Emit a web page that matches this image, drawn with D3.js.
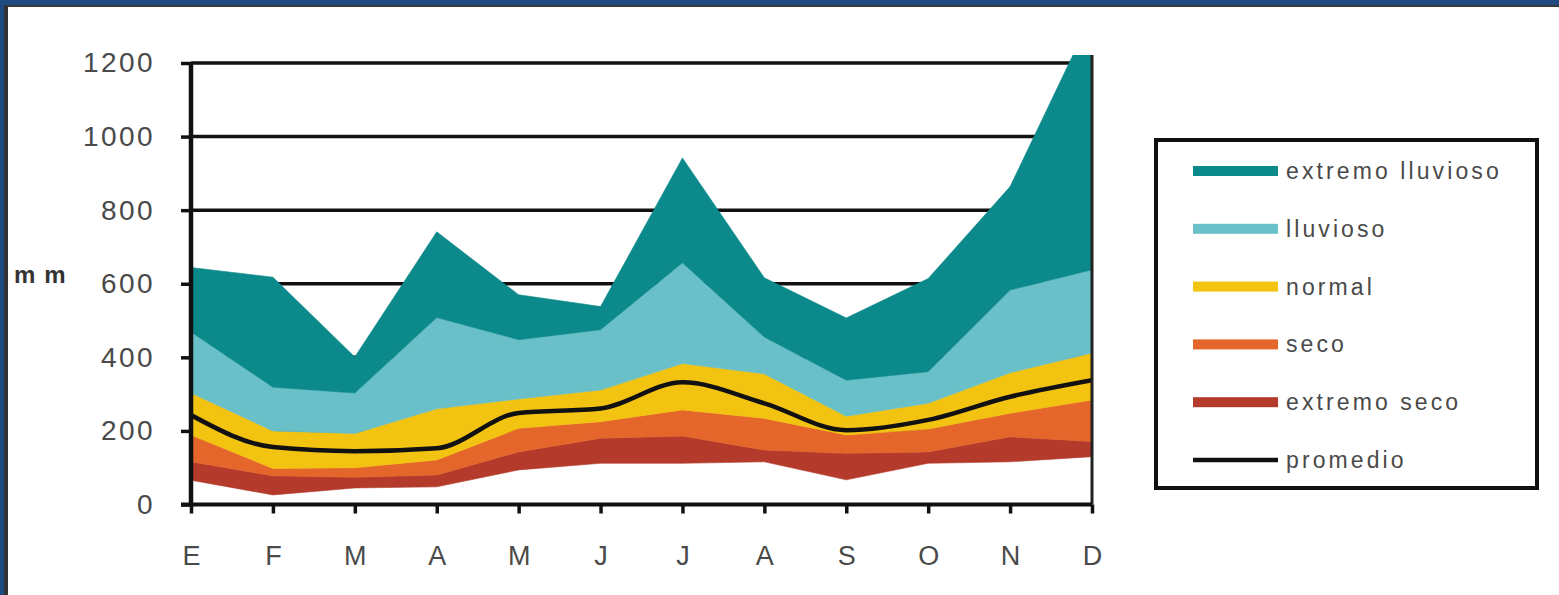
<!DOCTYPE html>
<html>
<head>
<meta charset="utf-8">
<script src="https://cdn.jsdelivr.net/npm/d3@7"></script>
<style>
  html, body { margin: 0; padding: 0; background: #ffffff; }
  svg { display: block; }
  text { font-family: "Liberation Sans", Arial, sans-serif; }
</style>
</head>
<body>
<svg id="chart" width="1559" height="595"></svg>
<script>
// Meses (eje X)
const meses = ["E", "F", "M", "A", "M", "J", "J", "A", "S", "O", "N", "D"];

// Límites de cada categoría de precipitación mensual (mm)
const minimo            = [66, 26, 45, 48, 94, 112, 112, 116, 67, 112, 116, 130];
const limExtremoSeco    = [116, 78, 74, 80, 143, 180, 186, 148, 139, 143, 184, 171];
const limSeco           = [189, 98, 100, 121, 207, 225, 257, 234, 189, 205, 248, 284];
const limNormal         = [303, 200, 193, 260, 287, 311, 383, 355, 240, 275, 358, 412];
const limLluvioso       = [469, 319, 303, 508, 448, 475, 657, 455, 338, 361, 583, 638];
const limExtremoLluvio  = [644, 618, 401, 741, 570, 538, 942, 616, 507, 614, 864, 1330];

// Precipitación promedio (mm)
const promedio = [243, 156, 145, 153, 249, 261, 332, 275, 202, 230, 293, 338];

// Marcas del eje Y
const ticksY = [0, 200, 400, 600, 800, 1000, 1200];

// Series de la leyenda
const nombres = ["extremo lluvioso", "lluvioso", "normal", "seco", "extremo seco", "promedio"];
const colores = ["#0c8a8b", "#69c0c8", "#f3c311", "#e4662b", "#b43a2b", "#111111"];

const svg = d3.select("#chart");
const W = 1559, H = 595;

// Marco azul con filete oscuro
svg.append("rect").attr("x", 0).attr("y", 0).attr("width", W).attr("height", 5).attr("fill", "#1f4b82");
svg.append("rect").attr("x", 0).attr("y", 0).attr("width", 4).attr("height", H).attr("fill", "#1f4b82");
svg.append("rect").attr("x", 4).attr("y", 5).attr("width", W - 4).attr("height", 2).attr("fill", "#3a3a3a");
svg.append("rect").attr("x", 4).attr("y", 5).attr("width", 4).attr("height", H - 5).attr("fill", "#333333");

// Escalas
const x = d3.scalePoint().domain(d3.range(meses.length)).range([191, 1092]);
const y = d3.scaleLinear().domain([0, 1200]).range([504.5, 63]);

// Recorte del área de trazado
svg.append("clipPath").attr("id", "plotClip")
  .append("rect")
  .attr("x", x(0)).attr("y", y(1222))
  .attr("width", x(11) - x(0)).attr("height", y(0) - y(1222));

// Líneas de división horizontales
const grid = svg.append("g");
grid.selectAll("line").data(ticksY.filter(d => d > 0)).join("line")
  .attr("x1", x(0)).attr("x2", x(11))
  .attr("y1", d => y(d)).attr("y2", d => y(d))
  .attr("stroke", "#111").attr("stroke-width", 3.5);

// Bandas entre límites consecutivos
const limites = [minimo, limExtremoSeco, limSeco, limNormal, limLluvioso, limExtremoLluvio];
const bandas = [
  { lo: 0, hi: 1, color: colores[4] },
  { lo: 1, hi: 2, color: colores[3] },
  { lo: 2, hi: 3, color: colores[2] },
  { lo: 3, hi: 4, color: colores[1] },
  { lo: 4, hi: 5, color: colores[0] }
];

const gAreas = svg.append("g").attr("clip-path", "url(#plotClip)");
bandas.forEach(b => {
  const a = d3.area()
    .x(i => x(i))
    .y0(i => y(limites[b.lo][i]))
    .y1(i => y(limites[b.hi][i]));
  gAreas.append("path")
    .attr("d", a(d3.range(meses.length)))
    .attr("fill", b.color)
    .attr("stroke", b.color)
    .attr("stroke-width", 0.6);
});

// Línea del promedio
const linea = d3.line().x(i => x(i)).y(i => y(promedio[i])).curve(d3.curveMonotoneX);
gAreas.append("path")
  .attr("d", linea(d3.range(meses.length)))
  .attr("fill", "none")
  .attr("stroke", colores[5])
  .attr("stroke-width", 4.5)
  .attr("stroke-linejoin", "round");

// Borde derecho del área de trazado
svg.append("line")
  .attr("x1", x(11)).attr("x2", x(11))
  .attr("y1", y(1222)).attr("y2", y(0))
  .attr("stroke", "#222").attr("stroke-width", 3);

// Eje Y
const ejeY = svg.append("g").attr("transform", `translate(${x(0)},0)`)
  .call(d3.axisLeft(y).tickValues(ticksY).tickSize(10).tickPadding(26).tickFormat(d3.format("d")));
ejeY.select(".domain").attr("stroke", "#111").attr("stroke-width", 4.5)
  .attr("d", `M0,${y(1200)}V${y(0) + 2}`);
ejeY.selectAll(".tick line").attr("stroke", "#111").attr("stroke-width", 3.5);
ejeY.selectAll(".tick text")
  .attr("fill", "#4a4a4a").attr("font-size", 28).attr("letter-spacing", 2.4)
  .attr("font-family", "Liberation Sans, Arial, sans-serif");

// Eje X
const ejeX = svg.append("g").attr("transform", `translate(0,${y(0)})`)
  .call(d3.axisBottom(x).tickSize(9).tickPadding(32).tickFormat(i => meses[i]));
ejeX.select(".domain").attr("stroke", "#111").attr("stroke-width", 4)
  .attr("d", `M${x(0) - 10},0H${x(11)}`);
ejeX.selectAll(".tick line").attr("stroke", "#111").attr("stroke-width", 3.5);
ejeX.selectAll(".tick text")
  .attr("fill", "#4a4a4a").attr("font-size", 27)
  .attr("font-family", "Liberation Sans, Arial, sans-serif");

// Unidad del eje Y
svg.append("text")
  .attr("x", 14).attr("y", 283)
  .attr("font-size", 24).attr("font-weight", "bold").attr("letter-spacing", 9)
  .attr("fill", "#333")
  .text("mm");

// Leyenda
const leg = svg.append("g");
leg.append("rect")
  .attr("x", 1156).attr("y", 140).attr("width", 381).attr("height", 348)
  .attr("fill", "#fff").attr("stroke", "#111").attr("stroke-width", 4);

const filaY = d3.scaleLinear().domain([0, 5]).range([171, 460]);
nombres.forEach((n, i) => {
  const cy = filaY(i);
  if (i < 5) {
    leg.append("rect")
      .attr("x", 1193).attr("y", cy - 5).attr("width", 85).attr("height", 10)
      .attr("fill", colores[i]);
  } else {
    leg.append("line")
      .attr("x1", 1193).attr("x2", 1278).attr("y1", cy).attr("y2", cy)
      .attr("stroke", colores[i]).attr("stroke-width", 4.5);
  }
  leg.append("text")
    .attr("x", 1286).attr("y", cy).attr("dy", "0.35em")
    .attr("font-size", 23).attr("letter-spacing", 3.1)
    .attr("fill", "#4a4a4a")
    .text(n);
});
</script>
</body>
</html>
